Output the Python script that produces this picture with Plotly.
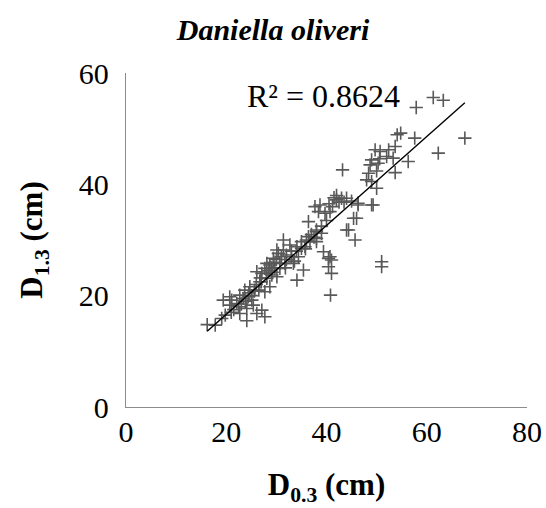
import numpy as np
import plotly.graph_objects as go

d03 = [16.2, 17.8, 19.1, 19.4, 20.7, 20.7, 21.1, 22.1, 22.7, 22.7, 23.4, 23.7, 24.1, 24.1, 24.4,
       24.7, 25.1, 25.4, 25.7, 26.1, 26.1, 26.7, 27.1, 27.1, 27.7, 27.7, 27.7, 28.1, 28.1, 28.7,
       28.7, 29.1, 29.4, 29.7, 30.1, 30.1, 30.4, 30.7, 30.7, 31.4, 31.4, 31.7, 32.0, 32.7, 33.0,
       33.4, 34.1, 34.1, 34.4, 35.0, 35.4, 35.7, 36.4, 36.4, 36.7, 37.7, 38.0, 38.0, 38.0, 38.0,
       38.4, 38.7, 39.0, 39.4, 39.7, 40.4, 40.4, 40.7, 40.7, 40.8, 41.0, 41.0, 42.0, 41.5, 42.5,
       43.0, 41.2, 43.2, 44.0, 44.4, 45.4, 45.7, 46.0, 46.3, 46.3, 48.0, 48.7, 49.0, 49.0, 49.0,
       49.3, 49.7, 50.0, 50.0, 50.3, 50.7, 51.0, 51.0, 52.0, 53.3, 53.7, 53.7, 54.1, 54.8, 56.3,
       57.6, 57.9, 61.3, 63.3, 62.3, 67.6,
       21.5, 22.5, 23.0, 24.5, 25.0, 26.0, 26.5, 27.0, 28.0, 28.5, 29.0, 29.5, 30.0, 31.0, 32.0,
       33.0, 34.0, 35.0, 36.0, 37.0, 37.5, 39.0, 40.0, 40.5, 42.0, 44.0, 43.5, 45.0,
       19.8, 21.0, 23.8, 25.6, 26.8, 29.2, 31.8, 33.6, 35.8, 48.4, 50.6, 52.4]
d13 = [14.8, 14.7, 15.9, 19.2, 19.8, 18.3, 19.2, 18.6, 20.1, 16.8, 19.5, 21.0, 17.7, 15.5, 19.8,
       21.6, 19.2, 18.3, 21.0, 16.8, 24.3, 22.5, 17.4, 24.0, 16.2, 20.7, 24.9, 23.1, 25.8, 25.5,
       21.6, 23.7, 26.7, 24.9, 28.2, 23.4, 27.6, 25.8, 24.9, 28.2, 30.0, 25.8, 27.3, 29.1, 27.0,
       25.8, 22.8, 28.8, 27.0, 29.7, 24.6, 28.8, 30.6, 33.3, 29.7, 36.0, 31.8, 31.5, 29.7, 30.3,
       35.1, 36.3, 31.2, 27.9, 34.8, 26.7, 25.2, 27.0, 35.1, 20.1, 24.0, 26.4, 37.2, 37.6, 36.8,
       37.5, 36.0, 42.6, 31.8, 31.8, 33.9, 30.0, 33.9, 36.6, 36.3, 40.8, 43.5, 44.4, 40.5, 36.3,
       36.3, 46.2, 42.4, 39.3, 43.8, 45.9, 26.1, 25.2, 45.0, 44.7, 46.8, 42.1, 48.9, 49.2, 44.1,
       48.3, 53.8, 55.6, 55.1, 45.6, 48.3,
       17.5, 18.0, 18.5, 20.5, 20.0, 22.0, 21.0, 22.5, 24.0, 24.5, 25.0, 26.0, 26.5, 27.0, 26.5,
       28.0, 28.0, 28.5, 30.0, 31.0, 30.5, 32.5, 33.5, 36.5, 38.0, 37.5, 36.8, 37.0,
       16.5, 17.0, 19.0, 20.8, 23.2, 24.2, 25.0, 26.2, 28.4, 42.0, 44.6, 46.2]

x_ticks = [0, 20, 40, 60, 80]
y_ticks = [0, 20, 40, 60]
r2_text = "R² = 0.8624"
title_text = "<b><i>Daniella oliveri</i></b>"

x = np.array(d03)
y = np.array(d13)
slope, intercept = np.polyfit(x, y, 1)
tx = np.array([x.min(), x.max()])
ty = slope * tx + intercept

FONT = "Liberation Serif, Times New Roman, serif"

fig = go.Figure()
fig.add_trace(go.Scatter(
    x=d03, y=d13, mode="markers",
    marker=dict(symbol="cross-thin", size=9.5, color="#595959",
                line=dict(color="#595959", width=1.6)),
    showlegend=False, hoverinfo="x+y"))
fig.add_trace(go.Scatter(
    x=tx, y=ty, mode="lines", line=dict(color="black", width=1.4),
    showlegend=False, hoverinfo="skip"))

fig.add_annotation(x=39.5, y=55.9, xref="x", yref="y", text=r2_text, showarrow=False,
                   font=dict(family=FONT, size=32, color="black"))

fig.update_layout(
    width=546, height=508,
    margin=dict(l=126, r=19, t=73, b=101, autoexpand=False),
    paper_bgcolor="white", plot_bgcolor="white",
    font=dict(family=FONT, size=30, color="black"),
    title=dict(text=title_text, x=0.5, xanchor="center", y=0.941, yanchor="middle",
               automargin=False,
               font=dict(family=FONT, size=30, color="black")),
)
fig.update_xaxes(range=[0, 80], tickvals=x_ticks, showgrid=False, zeroline=False,
                 showline=True, linecolor="#8c8c8c", linewidth=1.3, ticks="",
                 ticklabelstandoff=-2, automargin=False,
                 tickfont=dict(family=FONT, size=30),
                 title=dict(text="<b>D<sub>0.3</sub> (cm)</b>", standoff=26,
                            font=dict(family=FONT, size=31)))
fig.update_yaxes(range=[0, 60], tickvals=y_ticks, showgrid=False, zeroline=False,
                 showline=True, linecolor="#8c8c8c", linewidth=1.3, ticks="",
                 ticklabelstandoff=10, automargin=False,
                 tickfont=dict(family=FONT, size=30),
                 title=dict(text="<b>D<sub>1.3</sub> (cm)</b>", standoff=26,
                            font=dict(family=FONT, size=31)))

fig.write_html("out.html",
               config={"displayModeBar": False},
               post_script="document.body.style.margin='0';document.body.style.overflow='hidden';")
